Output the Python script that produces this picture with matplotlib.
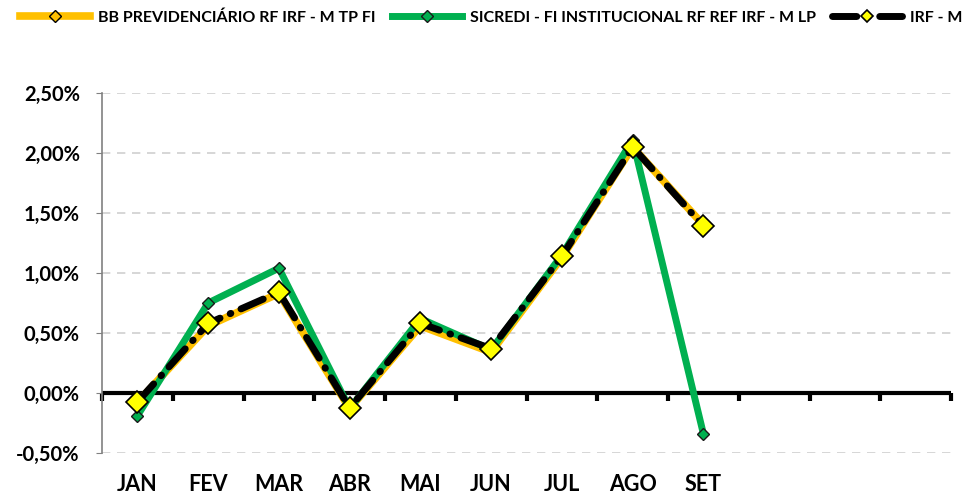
import matplotlib
matplotlib.use("Agg")
import matplotlib.pyplot as plt
from matplotlib.ticker import FuncFormatter, MultipleLocator

plt.rcParams['font.family'] = ['Lato', 'DejaVu Sans']
plt.rcParams['font.weight'] = 'bold'

# dados
meses = ["JAN", "FEV", "MAR", "ABR", "MAI", "JUN", "JUL", "AGO", "SET", "", "", ""]
bb = [-0.08, 0.56, 0.83, -0.13, 0.56, 0.34, 1.13, 2.05, 1.40]
sicredi = [-0.19, 0.75, 1.04, -0.13, 0.62, 0.36, 1.15, 2.11, -0.34]
irfm = [-0.075, 0.58, 0.84, -0.125, 0.58, 0.37, 1.14, 2.05, 1.39]
nomes = ["BB PREVIDENCIÁRIO RF IRF - M TP FI",
         "SICREDI - FI INSTITUCIONAL RF REF IRF - M LP",
         "IRF - M"]

fig = plt.figure(figsize=(9.68, 4.97), dpi=100)
ax = fig.add_axes([102/968, 44/497, 849/968, 360/497])

x = list(range(len(meses)))
ax.plot(x[:len(bb)], bb, color="#FFC000", lw=5.5, marker="D", ms=6,
        mfc="#FFC000", mec="black", mew=1, label=nomes[0], zorder=3)
ax.plot(x[:len(sicredi)], sicredi, color="#00B050", lw=5, marker="D", ms=6,
        mfc="#00B050", mec="#1a1a1a", mew=1, label=nomes[1], zorder=4)
ax.plot(x[:len(irfm)], irfm, color="black", lw=5, ls=(0, (3.5, 1.6, 0.1, 1.6)),
        dash_capstyle="round", marker="D", ms=11, mfc="#FFFF00", mec="black",
        mew=1.2, label=nomes[2], zorder=5)

ax.set_xlim(-0.5, len(meses) - 0.5)
ax.set_ylim(-0.5, 2.5)
ax.yaxis.set_major_locator(MultipleLocator(0.5))
ax.yaxis.set_major_formatter(FuncFormatter(lambda v, p: f"{v:.2f}%".replace(".", ",")))
ax.grid(axis="y", ls=(0, (5, 4)), color="#d0d0d0", lw=1.2)
ax.set_axisbelow(True)

for s in ["top", "right", "bottom"]:
    ax.spines[s].set_visible(False)
ax.spines["left"].set_color("#808080")
ax.spines["left"].set_linewidth(1.2)
ax.tick_params(axis="y", length=4, color="#808080", labelsize=14.5, pad=12)

ax.set_xticks(x)
ax.set_xticklabels(meses, fontsize=15.5, fontweight="bold")
ax.tick_params(axis="x", length=0, pad=15)

# eixo horizontal no zero
ax.axhline(0, color="black", lw=3, zorder=2)
y0 = (0 - (-0.5)) / 3.0
sec = ax.secondary_xaxis(y0)
sec.spines["bottom"].set_visible(False)
sec.set_xticks([i - 0.5 for i in range(len(meses) + 1)])
sec.set_xticklabels([])
sec.tick_params(length=6, width=3, color="black", direction="out")

leg = fig.legend(loc="upper left", bbox_to_anchor=(0.01, 1.0), ncol=3, frameon=False,
                 fontsize=11.5, handlelength=4.4, columnspacing=1.0, handletextpad=0.5,
                 borderaxespad=0.25)
for h in leg.legend_handles:
    h.set_markersize(6)

fig.savefig("out.png", dpi=100)
